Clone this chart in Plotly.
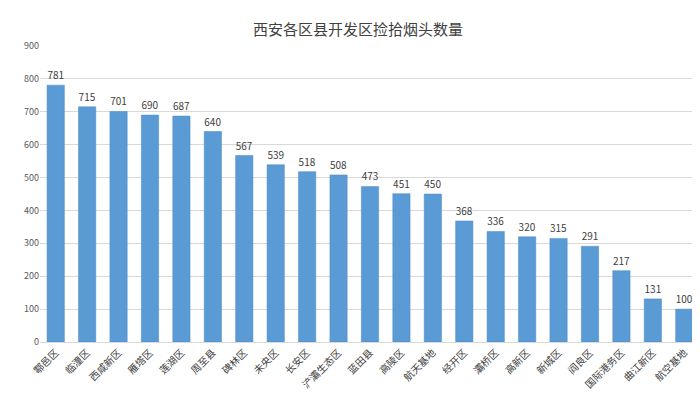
import plotly.graph_objects as go

# 各区县名称与数量
districts = ["鄠邑区", "临潼区", "西咸新区", "雁塔区", "莲湖区", "周至县", "碑林区", "未央区", "长安区",
             "浐灞生态区", "蓝田县", "高陵区", "航天基地", "经开区", "灞桥区", "高新区", "新城区", "阎良区",
             "国际港务区", "曲江新区", "航空基地"]
counts = [781, 715, 701, 690, 687, 640, 567, 539, 518, 508, 473, 451, 450, 368, 336, 320, 315, 291, 217, 131, 100]

fig = go.Figure()
fig.add_trace(go.Bar(
    x=districts, y=counts,
    marker=dict(color="#5b9bd5", line=dict(color="#4a8ac4", width=0.5)),
    text=counts, textposition="outside",
    textfont=dict(size=10, color="#404040"),
    width=0.55,
    cliponaxis=False,
))

fig.update_layout(
    title=dict(text="西安各区县开发区捡拾烟头数量", x=0.5, y=0.96, xanchor="center",
               font=dict(size=15, color="#404040", family="Noto Sans CJK SC")),
    font=dict(family="Noto Sans CJK SC", size=10, color="#404040"),
    plot_bgcolor="white",
    paper_bgcolor="white",
    width=700, height=402,
    margin=dict(l=32, r=8, t=38, b=68),
    showlegend=False,
    xaxis=dict(tickangle=-45, tickfont=dict(size=10), showline=True, linecolor="#d9d9d9"),
    yaxis=dict(range=[0, 900], dtick=100, gridcolor="#d9d9d9", tickfont=dict(size=9, color="#595959"),
               zeroline=False),
)

fig.write_html("out.html")
